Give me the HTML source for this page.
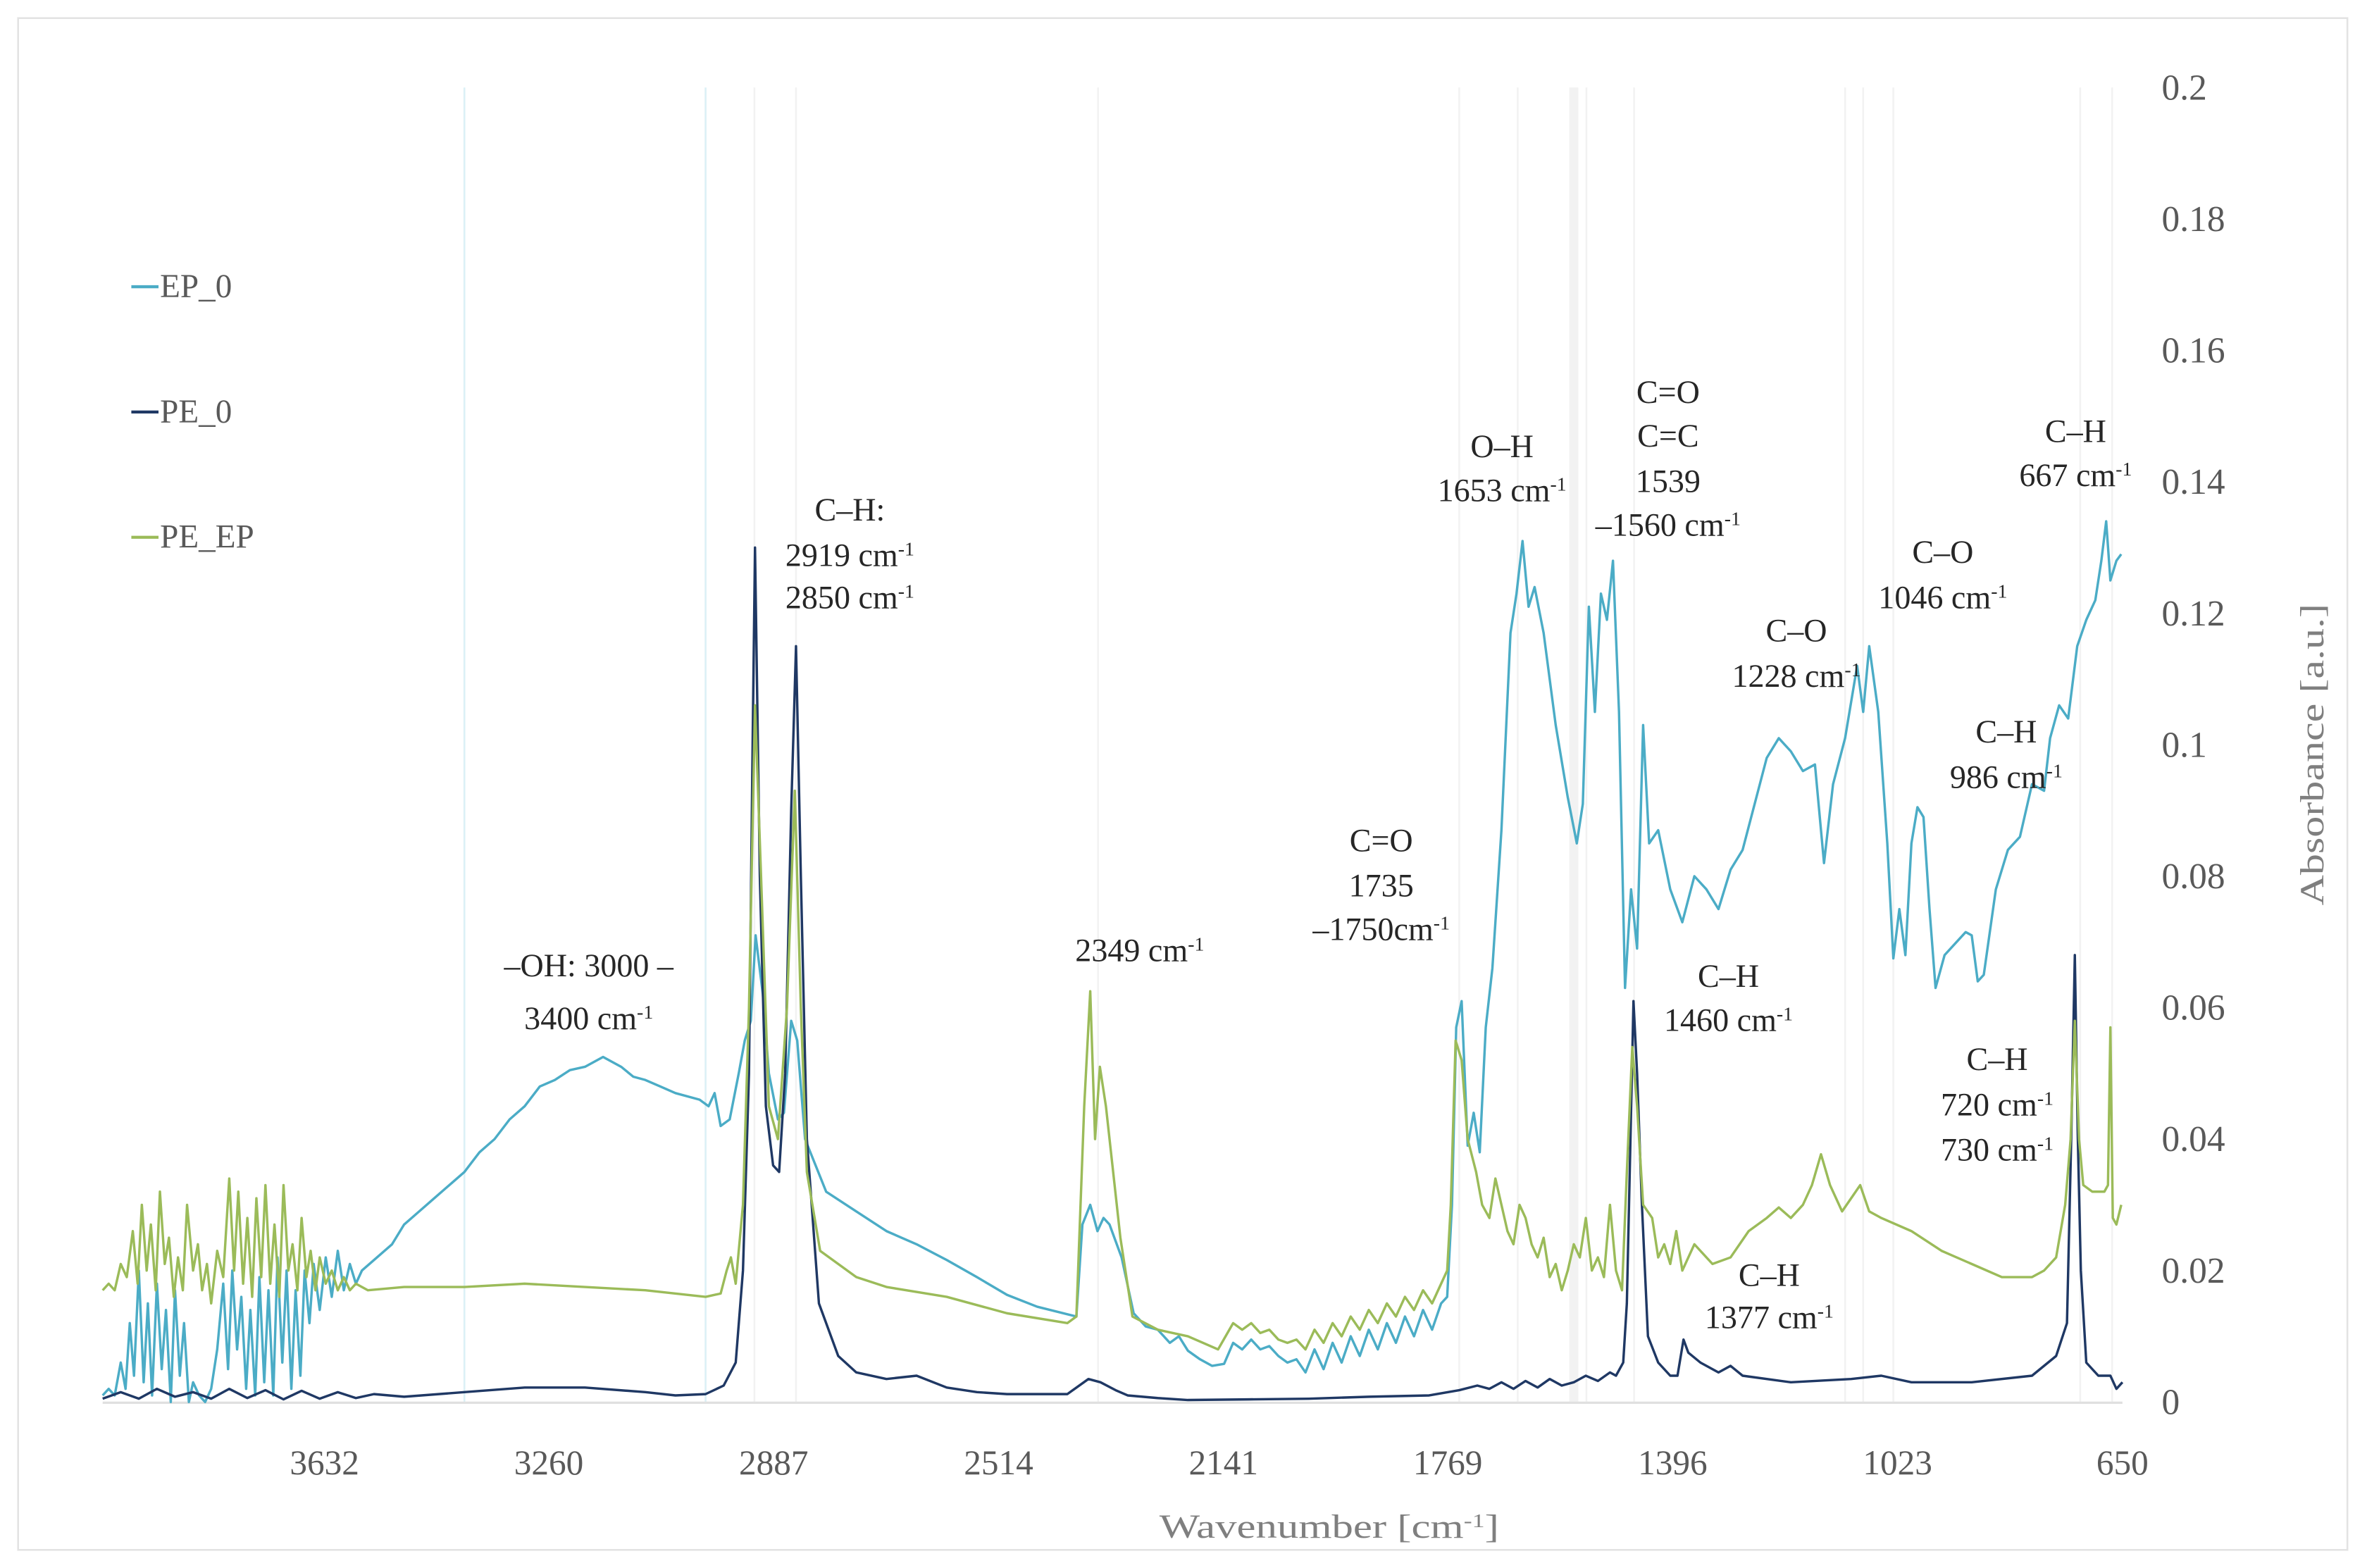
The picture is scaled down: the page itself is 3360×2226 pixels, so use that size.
<!DOCTYPE html>
<html><head><meta charset="utf-8"><style>
html,body{margin:0;padding:0;background:#fff;}
svg{display:block;}
text{font-family:"Liberation Serif",serif;}
</style></head><body>
<svg id="chart" width="3360" height="2226" viewBox="0 0 1568 1039" preserveAspectRatio="none" xmlns="http://www.w3.org/2000/svg">
<rect x="12" y="12" width="1543" height="1015" fill="#fff" stroke="#e3e3e3" stroke-width="1.2"/>
<g id="grid"></g>
<line x1="68" y1="929.5" x2="1406" y2="929.5" stroke="#e0e0e0" stroke-width="1.5"/>
<g id="series"></g>
<g id="ticks"></g>
<text x="768" y="1019" textLength="225" lengthAdjust="spacingAndGlyphs" font-size="22" fill="#7f7f7f">Wavenumber [cm<tspan dy="-7" font-size="13">-1</tspan><tspan dy="7">]</tspan></text>
<text transform="translate(1539,600) rotate(-90)" textLength="200" lengthAdjust="spacingAndGlyphs" font-size="22" fill="#7f7f7f">Absorbance [a.u.]</text>
<g font-size="22" fill="#595959">
 <g><line x1="87" y1="190" x2="105" y2="190" stroke="#4bacc6" stroke-width="2"/><text x="106" y="197">EP_0</text></g>
 <g><line x1="87" y1="273" x2="105" y2="273" stroke="#1f3864" stroke-width="2"/><text x="106" y="280">PE_0</text></g>
 <g><line x1="87" y1="356" x2="105" y2="356" stroke="#9bbb59" stroke-width="2"/><text x="106" y="363">PE_EP</text></g>
</g>
<g id="annos" font-size="21.5" fill="#262626" text-anchor="middle"></g>
</svg>
<script>
const xTicks = [3632, 3260, 2887, 2514, 2141, 1769, 1396, 1023, 650];
const yTicks = [0, 0.02, 0.04, 0.06, 0.08, 0.1, 0.12, 0.14, 0.16, 0.18, 0.2];
const yTickLabels = ["0","0.02","0.04","0.06","0.08","0.1","0.12","0.14","0.16","0.18","0.2"];
const gridWn = [3400, 3000, 2919, 2850, 2349, 1750, 1653, 1560, 1539, 1460, 1110, 1080, 1030, 720, 667];

const ep0 = [[4000,0.001],[3990,0.002],[3980,0.001],[3970,0.006],[3962,0.002],[3955,0.012],[3948,0.004],[3940,0.02],[3932,0.003],[3925,0.015],[3918,0.001],[3910,0.018],[3902,0.005],[3895,0.014],[3887,0.0],[3880,0.017],[3872,0.004],[3865,0.012],[3857,0.0],[3850,0.003],[3840,0.001],[3830,0.0],[3820,0.002],[3810,0.008],[3800,0.018],[3792,0.005],[3785,0.02],[3777,0.008],[3770,0.016],[3762,0.002],[3755,0.014],[3747,0.001],[3740,0.019],[3732,0.003],[3725,0.017],[3717,0.001],[3710,0.022],[3702,0.006],[3695,0.02],[3687,0.002],[3680,0.017],[3672,0.004],[3665,0.02],[3657,0.012],[3650,0.021],[3640,0.014],[3630,0.022],[3620,0.016],[3610,0.023],[3600,0.017],[3590,0.021],[3580,0.018],[3570,0.02],[3545,0.022],[3520,0.024],[3500,0.027],[3475,0.029],[3450,0.031],[3425,0.033],[3400,0.035],[3375,0.038],[3350,0.04],[3325,0.043],[3300,0.045],[3275,0.048],[3250,0.049],[3225,0.0505],[3200,0.051],[3170,0.0525],[3140,0.051],[3120,0.0495],[3100,0.049],[3075,0.048],[3050,0.047],[3010,0.046],[2995,0.045],[2985,0.047],[2975,0.042],[2960,0.043],[2945,0.05],[2935,0.055],[2925,0.058],[2917,0.071],[2905,0.062],[2895,0.05],[2880,0.043],[2870,0.044],[2858,0.058],[2848,0.055],[2835,0.04],[2800,0.032],[2750,0.029],[2700,0.026],[2650,0.024],[2600,0.0216],[2550,0.019],[2500,0.0163],[2450,0.0145],[2385,0.013],[2375,0.027],[2362,0.03],[2350,0.026],[2340,0.028],[2330,0.027],[2310,0.022],[2290,0.0135],[2270,0.0115],[2250,0.011],[2230,0.009],[2215,0.01],[2200,0.0078],[2180,0.0065],[2160,0.0055],[2140,0.0058],[2125,0.009],[2110,0.008],[2095,0.0095],[2080,0.008],[2065,0.0085],[2050,0.007],[2035,0.006],[2020,0.0065],[2005,0.0045],[1990,0.008],[1975,0.005],[1960,0.009],[1945,0.006],[1930,0.01],[1915,0.007],[1900,0.011],[1885,0.008],[1870,0.012],[1855,0.009],[1840,0.013],[1825,0.01],[1810,0.014],[1795,0.011],[1780,0.015],[1770,0.016],[1762,0.03],[1755,0.057],[1746,0.061],[1736,0.039],[1726,0.044],[1716,0.038],[1706,0.057],[1695,0.066],[1680,0.087],[1665,0.117],[1655,0.123],[1645,0.131],[1635,0.121],[1625,0.124],[1610,0.117],[1590,0.103],[1570,0.092],[1555,0.085],[1545,0.091],[1535,0.121],[1525,0.105],[1515,0.123],[1505,0.119],[1495,0.128],[1485,0.105],[1475,0.063],[1465,0.078],[1455,0.069],[1445,0.103],[1435,0.085],[1420,0.087],[1400,0.078],[1380,0.073],[1360,0.08],[1340,0.078],[1320,0.075],[1300,0.081],[1280,0.084],[1260,0.091],[1240,0.098],[1220,0.101],[1200,0.099],[1180,0.096],[1160,0.097],[1145,0.082],[1130,0.094],[1110,0.101],[1090,0.112],[1080,0.105],[1070,0.115],[1055,0.105],[1040,0.085],[1030,0.0675],[1020,0.075],[1010,0.068],[1000,0.085],[990,0.0905],[980,0.089],[970,0.075],[960,0.063],[945,0.068],[925,0.07],[910,0.0715],[900,0.071],[890,0.064],[880,0.065],[860,0.078],[840,0.084],[820,0.086],[800,0.094],[780,0.093],[770,0.101],[755,0.106],[740,0.104],[725,0.115],[710,0.119],[695,0.122],[685,0.128],[677,0.134],[670,0.125],[660,0.128],[652,0.129]];

const pe0 = [[4000,0.0005],[3970,0.0015],[3940,0.0005],[3910,0.002],[3880,0.0008],[3850,0.0015],[3820,0.0005],[3790,0.002],[3760,0.0006],[3730,0.0018],[3700,0.0004],[3670,0.0017],[3640,0.0005],[3610,0.0015],[3580,0.0006],[3550,0.0012],[3500,0.0008],[3400,0.0015],[3300,0.0022],[3200,0.0022],[3100,0.0015],[3050,0.001],[3000,0.0012],[2970,0.0025],[2950,0.006],[2938,0.02],[2928,0.05],[2922,0.1],[2918,0.13],[2910,0.08],[2900,0.045],[2888,0.036],[2878,0.035],[2868,0.05],[2858,0.09],[2850,0.115],[2842,0.08],[2832,0.04],[2812,0.015],[2780,0.007],[2750,0.0045],[2700,0.0035],[2650,0.004],[2600,0.0022],[2550,0.0015],[2500,0.0012],[2400,0.0012],[2365,0.0035],[2345,0.003],[2320,0.0018],[2300,0.001],[2250,0.0006],[2200,0.0003],[2100,0.0004],[2000,0.0005],[1900,0.0008],[1800,0.001],[1750,0.0018],[1720,0.0025],[1700,0.002],[1680,0.003],[1660,0.002],[1640,0.0032],[1620,0.0022],[1600,0.0035],[1580,0.0025],[1560,0.003],[1540,0.004],[1520,0.0032],[1500,0.0045],[1490,0.004],[1478,0.006],[1472,0.015],[1466,0.04],[1461,0.061],[1455,0.05],[1447,0.03],[1437,0.01],[1420,0.006],[1400,0.004],[1388,0.004],[1378,0.0095],[1370,0.0075],[1350,0.006],[1320,0.0045],[1300,0.0055],[1280,0.004],[1200,0.003],[1100,0.0035],[1050,0.004],[1000,0.003],[900,0.003],[800,0.004],[760,0.007],[742,0.012],[735,0.04],[729,0.068],[724,0.04],[719,0.02],[710,0.006],[690,0.004],[670,0.004],[660,0.002],[650,0.003]];

const peep = [[4000,0.017],[3990,0.018],[3980,0.017],[3970,0.021],[3960,0.019],[3950,0.026],[3942,0.018],[3935,0.03],[3927,0.02],[3920,0.027],[3912,0.017],[3905,0.032],[3897,0.021],[3890,0.025],[3882,0.016],[3875,0.022],[3867,0.017],[3860,0.03],[3850,0.02],[3842,0.024],[3835,0.017],[3827,0.021],[3820,0.015],[3810,0.023],[3800,0.019],[3790,0.034],[3782,0.02],[3775,0.032],[3767,0.018],[3760,0.028],[3752,0.016],[3745,0.031],[3737,0.019],[3730,0.033],[3722,0.018],[3715,0.027],[3707,0.016],[3700,0.033],[3692,0.02],[3685,0.024],[3677,0.017],[3670,0.028],[3662,0.019],[3655,0.023],[3647,0.017],[3640,0.022],[3630,0.018],[3620,0.02],[3610,0.017],[3600,0.019],[3590,0.017],[3580,0.018],[3560,0.017],[3500,0.0175],[3400,0.0175],[3300,0.018],[3200,0.0175],[3100,0.017],[3000,0.016],[2975,0.0165],[2965,0.02],[2958,0.022],[2950,0.018],[2938,0.03],[2928,0.06],[2918,0.106],[2908,0.08],[2895,0.045],[2880,0.04],[2865,0.06],[2852,0.093],[2842,0.06],[2832,0.035],[2810,0.023],[2750,0.019],[2700,0.0175],[2600,0.016],[2500,0.0135],[2400,0.012],[2385,0.013],[2372,0.045],[2362,0.0625],[2354,0.04],[2346,0.051],[2336,0.045],[2312,0.025],[2292,0.013],[2250,0.011],[2200,0.01],[2150,0.008],[2125,0.012],[2110,0.011],[2095,0.012],[2080,0.0105],[2065,0.011],[2050,0.0095],[2035,0.009],[2020,0.0095],[2005,0.008],[1990,0.011],[1975,0.009],[1960,0.012],[1945,0.01],[1930,0.013],[1915,0.011],[1900,0.014],[1885,0.012],[1870,0.015],[1855,0.013],[1840,0.016],[1825,0.014],[1810,0.017],[1795,0.015],[1780,0.018],[1770,0.02],[1764,0.03],[1756,0.055],[1746,0.052],[1736,0.04],[1722,0.035],[1712,0.03],[1700,0.028],[1690,0.034],[1680,0.03],[1670,0.026],[1660,0.024],[1650,0.03],[1640,0.028],[1630,0.024],[1620,0.022],[1610,0.025],[1600,0.019],[1590,0.021],[1580,0.017],[1570,0.02],[1560,0.024],[1550,0.022],[1540,0.028],[1530,0.02],[1520,0.022],[1510,0.019],[1500,0.03],[1490,0.02],[1480,0.017],[1472,0.035],[1463,0.054],[1455,0.045],[1445,0.03],[1430,0.028],[1420,0.022],[1410,0.024],[1400,0.021],[1390,0.026],[1380,0.02],[1370,0.022],[1360,0.024],[1350,0.023],[1330,0.021],[1300,0.022],[1270,0.026],[1240,0.028],[1220,0.0296],[1200,0.028],[1180,0.03],[1165,0.033],[1150,0.0377],[1135,0.033],[1115,0.029],[1100,0.031],[1085,0.033],[1070,0.029],[1050,0.028],[1000,0.026],[950,0.023],[900,0.021],[850,0.019],[800,0.019],[780,0.02],[760,0.022],[745,0.03],[736,0.04],[729,0.058],[722,0.04],[715,0.033],[700,0.032],[680,0.032],[674,0.033],[670,0.057],[666,0.028],[660,0.027],[652,0.03]];

const seriesNames = ["ep0-line","pe0-line","peep-line"];
const seriesColors = ["#4bacc6","#1f3864","#9bbb59"];
const seriesData = [ep0, pe0, peep];

const annoLabels = [
 [390,640,"–OH: 3000 –"],[390,675,"3400 cm|-1"],
 [563,338,"C–H:"],[563,368,"2919 cm|-1"],[563,396,"2850 cm|-1"],
 [755,630,"2349 cm|-1"],
 [915,557,"C=O"],[915,587,"1735"],[915,616,"–1750cm|-1"],
 [995,296,"O–H"],[995,325,"1653 cm|-1"],
 [1105,260,"C=O"],[1105,289,"C=C"],[1105,319,"1539"],[1105,348,"–1560 cm|-1"],
 [1190,418,"C–O"],[1190,448,"1228 cm|-1"],
 [1287,366,"C–O"],[1287,396,"1046 cm|-1"],
 [1329,485,"C–H"],[1329,515,"986 cm|-1"],
 [1375,286,"C–H"],[1375,315,"667 cm|-1"],
 [1145,647,"C–H"],[1145,676,"1460 cm|-1"],
 [1323,702,"C–H"],[1323,732,"720 cm|-1"],[1323,762,"730 cm|-1"],
 [1172,845,"C–H"],[1172,873,"1377 cm|-1"]
];

const NS = "http://www.w3.org/2000/svg";
const X0 = 68, X1 = 1406, WN0 = 4000, WN1 = 650;
const Y0 = 929, Y1 = 58, V1 = 0.2;
function xs(wn){ return X0 + (WN0 - wn) / (WN0 - WN1) * (X1 - X0); }
function ys(v){ return Y0 - v / V1 * (Y0 - Y1); }

const grid = document.getElementById('grid');
gridWn.forEach((w,i) => {
  const l = document.createElementNS(NS,'line');
  
  
  l.setAttribute('x1', xs(w)); l.setAttribute('x2', xs(w));
  l.setAttribute('y1', 58); l.setAttribute('y2', 929);
  l.setAttribute('stroke', (w===3400||w===3000) ? '#dbf0f6' : '#f2f2f2');
  l.setAttribute('stroke-width', (w===1560) ? 6 : 1.2);
  grid.appendChild(l);
});

const sg = document.getElementById('series');
seriesData.forEach((d,i) => {
  const p = document.createElementNS(NS,'path');
  
  
  p.setAttribute('d', d.map((pt,j) => (j?'L':'M') + xs(pt[0]).toFixed(2) + ' ' + ys(pt[1]).toFixed(2)).join(' '));
  p.setAttribute('fill', 'none');
  p.setAttribute('stroke', seriesColors[i]);
  p.setAttribute('stroke-width', 1.6);
  p.setAttribute('stroke-linejoin', 'round');
  sg.appendChild(p);
});

const tg = document.getElementById('ticks');
xTicks.forEach(t => {
  const tx = document.createElementNS(NS,'text');
  
  
  tx.setAttribute('x', xs(t)); tx.setAttribute('y', 977);
  tx.setAttribute('text-anchor', 'middle'); tx.setAttribute('font-size', 23); tx.setAttribute('fill', '#595959');
  tx.textContent = t;
  tg.appendChild(tx);
});
yTicks.forEach((t,i) => {
  const tx = document.createElementNS(NS,'text');
  
  
  tx.setAttribute('x', 1432); tx.setAttribute('y', ys(t) + 8);
  tx.setAttribute('font-size', 24); tx.setAttribute('fill', '#595959');
  tx.textContent = yTickLabels[i];
  tg.appendChild(tx);
});

const ag = document.getElementById('annos');
annoLabels.forEach(a => {
  const tx = document.createElementNS(NS,'text');
  
  
  tx.setAttribute('x', a[0]); tx.setAttribute('y', a[1] + 7);
  const parts = a[2].split('|');
  tx.appendChild(document.createTextNode(parts[0]));
  if (parts[1]) {
    const s = document.createElementNS(NS,'tspan');
    s.setAttribute('dy', -7); s.setAttribute('font-size', 13);
    s.textContent = parts[1];
    tx.appendChild(s);
  }
  ag.appendChild(tx);
});
</script>
</body></html>
